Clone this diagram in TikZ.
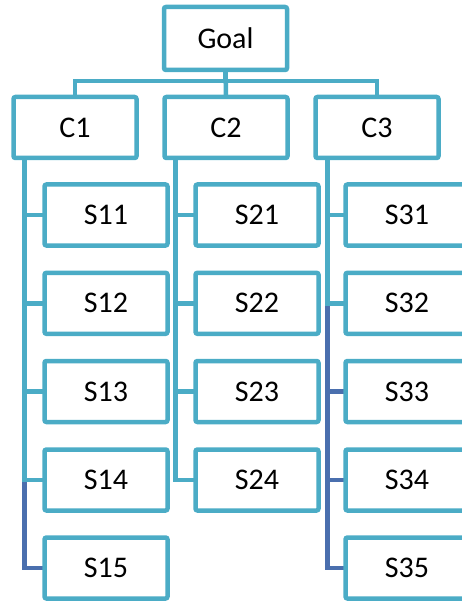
\documentclass[tikz,border=0pt]{standalone}
\usepackage{fontspec}
\setmainfont{Carlito}
\usetikzlibrary{backgrounds}
\definecolor{lb}{HTML}{4BACC6}
\definecolor{db}{HTML}{4A6FAE}
\begin{document}
\begin{tikzpicture}[x=1pt,y=-1pt,
  box/.style={draw=lb, line width=4.5pt, rounded corners=2pt, fill=white,
    minimum width=123pt, minimum height=61pt, inner sep=0pt, outer sep=0pt,
    font=\fontsize{30}{36}\selectfont},
  lk/.style={draw=lb, line width=4.5pt},
  dk/.style={draw=db, line width=4.5pt}]
\useasboundingbox (0,0) rectangle (462,601);
\clip (0,0) rectangle (462,601);
\node[box, minimum height=63pt] (goal) at (225.5,38.5) {Goal};
\node[box] (c1) at (75,127.5) {C1};
\node[box] (c2) at (226,127.5) {C2};
\node[box] (c3) at (377,127.5) {C3};
\foreach \j/\y in {1/215,2/303.3,3/391.5,4/480,5/568}{
  \node[box] (s1\j) at (106,\y) {S1\j};
  \node[box] (s3\j) at (407,\y) {S3\j};
}
\foreach \j/\y in {1/215,2/303.3,3/391.5,4/480}{
  \node[box] (s2\j) at (257,\y) {S2\j};
}
\coordinate (v1) at ([xshift=11pt]c1.south west);
\coordinate (v2) at ([xshift=11pt]c2.south west);
\coordinate (v3) at ([xshift=12pt]c3.south west);
\begin{pgfonlayer}{background}
  \draw[lk] (goal.south) -- (c2.north);
  \draw[lk] (goal.south) -- ++(0,11) -| (c1.north);
  \draw[lk] (goal.south) -- ++(0,11) -| (c3.north);
  % C1 children
  \draw[dk] (v1) |- (s15.west);
  \foreach \j in {4,3,2,1}{\draw[lk] (v1) |- (s1\j.west);}
  % C2 children
  \foreach \j in {4,3,2,1}{\draw[lk] (v2) |- (s2\j.west);}
  % C3 children
  \foreach \j in {5,4,3}{\draw[dk] (v3) |- (s3\j.west);}
  \foreach \j in {2,1}{\draw[lk] (v3) |- (s3\j.west);}
\end{pgfonlayer}
\end{tikzpicture}
\end{document}
